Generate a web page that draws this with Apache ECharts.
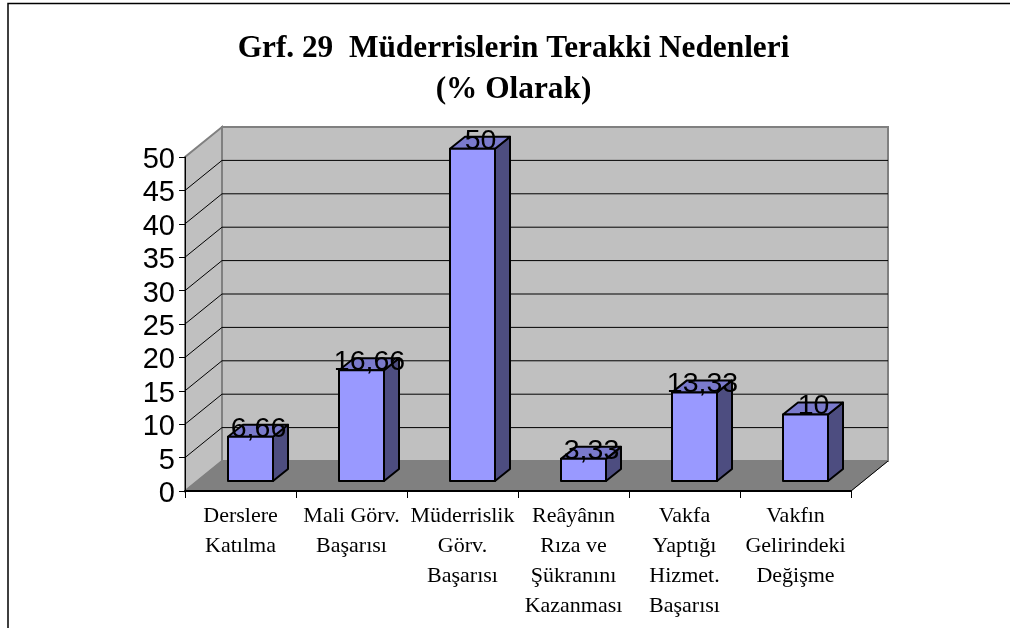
<!DOCTYPE html>
<html>
<head>
<meta charset="utf-8">
<script src="https://cdn.jsdelivr.net/npm/echarts@6/dist/echarts.min.js"></script>
<style>
  html, body { margin: 0; padding: 0; background: #fff; }
  #chart { width: 1010px; height: 628px; }
</style>
</head>
<body>
<div id="chart"></div>
<script>
const categories = [
  "Derslere\nKatılma",
  "Mali Görv.\nBaşarısı",
  "Müderrislik\nGörv.\nBaşarısı",
  "Reâyânın\nRıza ve\nŞükranını\nKazanması",
  "Vakfa\nYaptığı\nHizmet.\nBaşarısı",
  "Vakfın\nGelirindeki\nDeğişme",
];
const values = [6.66, 16.66, 50, 3.33, 13.33, 10];
const valueLabels = ["6,66", "16,66", "50", "3,33", "13,33", "10"];
const yTicks = [0, 5, 10, 15, 20, 25, 30, 35, 40, 45, 50];

// 3d look: how far the back wall sits from the front axis
const depthX = 37;
const depthY = -30;
const barShiftX = 10;
const barShiftY = -10;
const barDepthX = 15;
const barDepthY = -12;
const barWidth = 45;
// bars sit a bit deeper than the axis plane so they come out slightly shorter
const barHeightScale = 0.995;

const myChart = echarts.init(document.getElementById("chart"));

const renderWalls = (params, api) => {
  const zero = api.coord([0, 0]);
  const top = api.coord([0, 50]);
  const left = zero[0] - api.size([1, 0])[0] / 2;
  const right = left + api.size([1, 0])[0] * categories.length;
  const children = [
    {
      type: "polygon",
      shape: { points: [[left, zero[1]], [left + depthX, zero[1] + depthY], [left + depthX, top[1] + depthY], [left, top[1]]] },
      style: { fill: "#c0c0c0", stroke: "#808080", lineWidth: 2 },
    },
    {
      type: "rect",
      shape: { x: left + depthX, y: top[1] + depthY, width: right - left, height: zero[1] - top[1] },
      style: { fill: "#c0c0c0", stroke: "#808080", lineWidth: 2 },
    },
  ];
  yTicks.slice(1, -1).forEach((t) => {
    const y = api.coord([0, t])[1];
    children.push({
      type: "polyline",
      shape: { points: [[left, y], [left + depthX, y + depthY], [right + depthX, y + depthY]] },
      style: { fill: null, stroke: "#000", lineWidth: 1 },
    });
  });
  children.push({
    type: "polygon",
    shape: { points: [[left, zero[1]], [left + depthX, zero[1] + depthY], [right + depthX, zero[1] + depthY], [right, zero[1]]] },
    style: { fill: "#808080", stroke: "#808080", lineWidth: 1 },
  });
  children.push({
    type: "line",
    shape: { x1: right, y1: zero[1], x2: right + depthX, y2: zero[1] + depthY },
    style: { stroke: "#000", lineWidth: 1 },
  });
  return { type: "group", children };
};

const renderBar = (params, api) => {
  const base = api.coord([api.value(0), 0]);
  const head = api.coord([api.value(0), api.value(1)]);
  const x0 = base[0] + barShiftX - barWidth / 2;
  const x1 = x0 + barWidth;
  const y0 = base[1] + barShiftY;
  const y1 = y0 - (base[1] - head[1]) * barHeightScale;
  const edge = { stroke: "#000", lineWidth: 2, lineJoin: "round" };
  return {
    type: "group",
    children: [
      {
        type: "polygon",
        shape: { points: [[x1, y0], [x1 + barDepthX, y0 + barDepthY], [x1 + barDepthX, y1 + barDepthY], [x1, y1]] },
        style: { fill: "#4d4d80", ...edge },
      },
      {
        type: "polygon",
        shape: { points: [[x0, y1], [x1, y1], [x1 + barDepthX, y1 + barDepthY], [x0 + barDepthX, y1 + barDepthY]] },
        style: { fill: "#7a7acc", ...edge },
      },
      {
        type: "rect",
        shape: { x: x0, y: y1, width: barWidth, height: y0 - y1 },
        style: { fill: "#9999ff", ...edge },
      },
      {
        type: "text",
        x: base[0] + 18,
        y: y1 - 8,
        style: {
          text: valueLabels[params.dataIndex],
          fill: "#000",
          font: "28.5px 'Liberation Sans'",
          align: "center",
          verticalAlign: "middle",
        },
      },
    ],
  };
};

const option = {
  animation: false,
  backgroundColor: "#fff",
  title: {
    text: "Grf. 29  Müderrislerin Terakki Nedenleri\n(% Olarak)",
    left: 508.5,
    top: 23,
    textAlign: "center",
    textStyle: {
      fontFamily: "Liberation Serif",
      fontWeight: "bold",
      fontSize: 31.3,
      lineHeight: 41,
      color: "#000",
    },
  },
  grid: { left: 185, right: 159, top: 157, bottom: 137 },
  xAxis: {
    type: "category",
    data: categories,
    z: 5,
    axisLine: { lineStyle: { color: "#000", width: 2 } },
    axisTick: { show: true, length: 7, alignWithLabel: false, lineStyle: { color: "#000" } },
    axisLabel: {
      interval: 0,
      margin: 10,
      fontFamily: "Liberation Serif",
      fontSize: 22,
      lineHeight: 30,
      color: "#000",
    },
  },
  yAxis: {
    type: "value",
    min: 0,
    max: 50,
    interval: 5,
    z: 5,
    splitLine: { show: false },
    axisLine: { show: true, lineStyle: { color: "#000", width: 1 } },
    axisTick: { show: true, length: 6, lineStyle: { color: "#000" } },
    axisLabel: {
      margin: 10,
      verticalAlign: "top",
      lineHeight: 6,
      fontFamily: "Liberation Sans",
      fontSize: 29,
      color: "#000",
    },
  },
  graphic: [
    {
      type: "polyline",
      silent: true,
      shape: { points: [[8, 628], [8, 3.5], [1010, 3.5]] },
      style: { fill: null, stroke: "#000", lineWidth: 1.5 },
    },
  ],
  series: [
    {
      type: "custom",
      name: "walls",
      renderItem: renderWalls,
      data: [[0, 0]],
      silent: true,
      z: 1,
    },
    {
      type: "custom",
      name: "bars",
      renderItem: renderBar,
      data: values.map((v, i) => [i, v]),
      encode: { x: 0, y: 1 },
      z: 6,
    },
  ],
};

myChart.setOption(option);
</script>
</body>
</html>
